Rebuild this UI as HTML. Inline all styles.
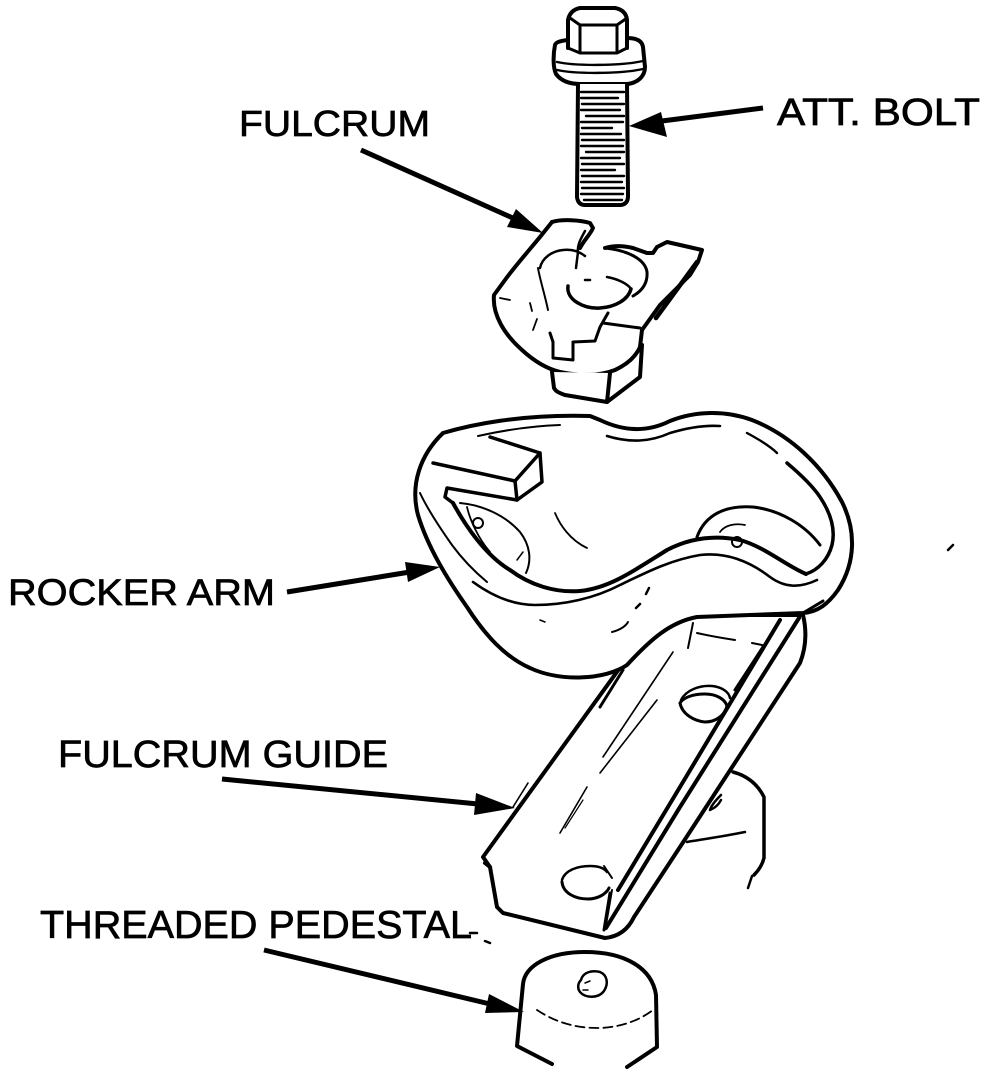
<!DOCTYPE html>
<html>
<head>
<meta charset="utf-8">
<style>
html,body{margin:0;padding:0;background:#fff;}
svg{display:block;}
text{font-family:"Liberation Sans",Arial,sans-serif;fill:#000;stroke:#000;stroke-width:0.7px;}
</style>
</head>
<body>
<svg width="992" height="1074" viewBox="0 0 992 1074" xmlns="http://www.w3.org/2000/svg">
<rect width="992" height="1074" fill="#fff"/>

<!-- ===== Pedestal behind guide ===== -->
<g fill="none" stroke="#000" stroke-width="3.5" stroke-linecap="round" stroke-linejoin="round">
  <path d="M733,772 C748,776 758,785 764,797 L764,820 L764,858 C762,866 758,871 754,875"/>
  <path d="M748,888 L752,876" stroke-width="2.5"/>
  <path d="M687,842 C705,839 725,836 745,832" stroke-width="2.5"/>
  <path d="M721,795 C716,800 711,806 710,810 C715,808 719,804 721,800" stroke-width="2.5"/>
</g>

<!-- ===== Fulcrum guide ===== -->
<g fill="none" stroke="#000" stroke-width="4" stroke-linecap="round" stroke-linejoin="round">
  <path d="M483,857 L640,640 Q655,618 693,615 L803,615 Q809,640 800,663 L680,847 L634,917 Q625,936 605,938 L503,913 L497,907 L490,867 Z" fill="#fff"/>
  <path d="M780,620 L680,787 L618,890"/>
  <path d="M799,618 L680,807 L606,928"/>
  <path d="M763,647 L735,690" stroke-width="3"/>
  <path d="M610,893 L604,930" stroke-width="3"/>
  <path d="M485,863 L490,867" />
  <path d="M693,623 L688,648" stroke-width="2"/>
  <path d="M697,633 C710,636 722,638 735,640" stroke-width="2"/>
  <path d="M752,643 L762,645" stroke-width="2"/>
  <path d="M600,707 L623,670" stroke-width="3"/>
  <path d="M603,757 L673,652" stroke-width="1.6"/>
  <path d="M600,773 L657,700" stroke-width="1.6"/>
  <path d="M560,833 L587,787" stroke-width="1.6"/>
  <path d="M565,828 L583,800" stroke-width="1.2"/>
  <path d="M513,807 L528,783" stroke-width="1.6"/>
  <path d="M681,700 C686,690 700,685 712,686 C722,687 729,692 730,698" stroke-width="2.5"/>
  <path d="M680,703 C682,714 694,721 705,722 C716,722 725,715 727,706 C725,699 716,694 705,694 C692,694 683,698 680,703" stroke-width="3"/>
  <path d="M562,880 C565,870 578,866 590,866 C598,866 604,868 607,872" stroke-width="2.5"/>
  <path d="M562,882 C563,893 575,899 588,899 C598,899 606,894 609,888" stroke-width="3"/>
  <path d="M604,866 L612,878" stroke-width="2"/>
  <path d="M612,890 L606,925" stroke-width="2"/>
</g>

<!-- ===== Rocker arm ===== -->
<g fill="none" stroke="#000" stroke-width="4" stroke-linecap="round" stroke-linejoin="round">
  <path d="M443,433 C470,425 520,414 590,416 L600,420 C625,432 648,432 670,421 C695,411 725,410 752,420 C790,435 822,465 842,502 C856,530 856,562 838,590 C828,604 818,612 803,613 L697,617 C670,622 650,640 627,665 C605,680 560,682 530,668 C505,657 485,635 467,607 C448,580 428,548 418,515 C410,485 420,455 443,433 Z" fill="#fff"/>
  <path d="M803,613 L823,601" stroke-width="3"/>
  <path d="M478,436 C505,430 530,426 560,425" stroke-width="2"/>
  <path d="M607,436 C630,443 650,442 670,433 C690,427 705,425 720,426" stroke-width="2.6"/>
  <path d="M747,433 C760,440 770,446 777,453" stroke-width="2.4"/>
  <path d="M787,463 C800,474 812,485 820,497 C830,512 836,528 832,545 C828,560 818,570 806,574" stroke-width="3.5"/>
  <path d="M453,503 C465,525 485,555 510,570 C530,585 555,593 580,591 C610,588 635,570 667,550 C690,538 715,535 740,540 C765,547 785,565 806,574"/>
  <path d="M473,582 C495,598 515,605 535,605 C565,605 595,598 620,585 C645,573 670,560 700,555 C725,552 748,560 770,577 C785,588 800,588 817,580" stroke-width="2.6"/>
  <path d="M420,493 C428,510 440,528 452,545 C463,560 475,572 487,582" stroke-width="2"/>
  <path d="M490,437 L540,453 L515,481 L433,463" stroke-width="3.5"/>
  <path d="M540,453 L542,482 L517,500 L515,481" stroke-width="3.5"/>
  <path d="M517,500 L447,488 L445,497 L453,503" stroke-width="3.5"/>
  <path d="M460,503 C482,505 505,515 520,532 C530,545 532,560 526,573" stroke-width="2"/>
  <path d="M467,507 C470,520 478,538 490,552" stroke-width="1.8"/>
  <circle cx="478" cy="523" r="5" stroke-width="2"/>
  <path d="M517,560 L523,552" stroke-width="1.5"/>
  <path d="M555,513 C560,525 570,540 587,548" stroke-width="1.8"/>
  <path d="M697,537 C705,515 725,505 753,507 C780,510 805,525 820,545" stroke-width="3"/>
  <path d="M720,532 C725,525 735,523 745,525" stroke-width="1.8"/>
  <circle cx="737" cy="542" r="5" stroke-width="2"/>
  <path d="M646,594 L649,588" stroke-width="2.5"/>
  <path d="M636,608 L640,604" stroke-width="2.5"/>
  <path d="M612,632 C620,630 626,626 628,622" stroke-width="2"/>
  <path d="M540,620 L545,622" stroke-width="1.5"/>
</g>

<!-- ===== Bolt ===== -->
<g fill="none" stroke="#000" stroke-width="4" stroke-linecap="round" stroke-linejoin="round">
  <path d="M555,45 C553,55 553,68 556,74 C562,82 572,84 580,84 L627,84 C638,83 645,76 645,67 L643,47 C642,40 635,38 627,38 L568,40 C560,41 556,42 555,45 Z" fill="#fff"/>
  <path d="M557,62 C575,66 620,66 643,61" stroke-width="2.4"/>
  <path d="M557,70 C575,74 620,74 643,69" stroke-width="2.4"/>
  <path d="M568,48 L568,20 Q570,10 580,8 L615,8 Q626,10 627,20 L627,48" fill="#fff"/>
  <path d="M570,18 L580,25 L617,25 L627,18" stroke-width="3"/>
  <path d="M580,25 L580,52 M617,25 L617,52" stroke-width="3"/>
  <path d="M568,48 L580,53 L617,53 L627,48" stroke-width="3"/>
  <path d="M578,84 L577,197 Q578,205 585,205 L621,205 Q628,204 628,196 L627,84" fill="#fff"/>
</g>
<g stroke="#000" stroke-width="2.4" stroke-linecap="round">
  <path d="M581,92 H624 M581,98 H618 M582,104 H624 M581,110 H620 M586,116 H624 M581,122 H623 M582,128 H612 M581,134 H621 M582,140 H624 M581,146 H623 M586,152 H624 M581,158 H620 M582,164 H624 M581,170 H615 M582,176 H624 M581,182 H622 M582,188 H624 M581,194 H623 M584,200 H622"/>
</g>

<!-- ===== Fulcrum ===== -->
<g fill="none" stroke="#000" stroke-width="4" stroke-linecap="round" stroke-linejoin="round">
  <path d="M552,222 L540,237 C525,255 512,270 505,280 L494,295 C492,315 505,335 522,350 C535,362 548,369 560,372 C580,376 600,376 615,370 C628,364 636,356 640,347 L642,330 L660,305 L690,275 L698,262 L702,250 L667,242 L657,247 L653,253 L647,253 L633,248 C625,246 615,245 605,248" fill="#fff"/>
  <path d="M552,222 C562,219 580,220 590,223 L593,228 C590,235 584,240 580,248"/>
  <path d="M552,372 L554,388 C556,392 560,393 565,395 L607,402 L610,373" fill="#fff"/>
  <path d="M607,402 L640,377 L642,345"/>
  <path d="M697,262 L656,318" stroke-width="4.5"/>
  <path d="M603,323 L640,328" stroke-width="3"/>
  <path d="M540,268 C542,258 552,251 563,250 C573,249 580,252 585,256" stroke-width="2.5"/>
  <path d="M585,231 C580,240 577,246 578,252 L576,268" stroke-width="2.5"/>
  <path d="M605,248 C625,250 645,258 647,272 C648,285 640,292 633,296" stroke-width="3"/>
  <path d="M568,286 C566,300 584,309 600,308 C615,307 628,300 631,289" stroke-width="3.5"/>
  <path d="M607,277 C618,279 628,284 631,289" stroke-width="2.5"/>
  <path d="M585,280 L590,280" stroke-width="2.5"/>
  <path d="M538,268 C540,280 545,295 548,310" stroke-width="2"/>
  <path d="M550,333 L553,342 M573,342 L595,341 L600,327 L608,313" stroke-width="3"/>
  <path d="M553,342 L553,358 L573,360 L573,343" stroke-width="3"/>
  <path d="M530,303 L532,311 M537,319 L533,330" stroke-width="1.8"/>
  <path d="M500,298 L510,300" stroke-width="1.8"/>
</g>

<!-- ===== Threaded pedestal ===== -->
<g fill="none" stroke="#000" stroke-width="4" stroke-linecap="round" stroke-linejoin="round">
  <path d="M523,984 C525,965 550,952 585,952 C625,952 652,968 656,995 L657,1047 L627,1067 M523,984 L517,1046 L552,1064"/>
  <path d="M581,980 C583,972 592,970 600,972 C607,975 609,983 604,991 C598,999 585,998 580,992 C577,988 578,983 581,980" stroke-width="2.5"/>
  <path d="M585,983 L590,981 M583,990 L588,990" stroke-width="1.5"/>
  <path d="M537,1010 C555,1022 575,1028 597,1028 C620,1028 640,1020 653,1010" stroke-width="1.8" stroke-dasharray="9 5"/>
</g>

<g stroke="#000" stroke-width="2.5" stroke-linecap="round">
  <path d="M470,933 L477,933"/>
  <path d="M485,941 L490,943"/>
  <path d="M948,550 L953,545"/>
</g>

<!-- ===== Arrows ===== -->
<g stroke="#000" stroke-width="5" stroke-linecap="butt">
  <line x1="763" y1="108" x2="662" y2="121"/>
  <line x1="361" y1="150" x2="515" y2="219"/>
  <line x1="287" y1="592" x2="410" y2="572"/>
  <line x1="222" y1="779" x2="478" y2="804"/>
  <line x1="264" y1="950" x2="490" y2="1004"/>
</g>
<g fill="#000">
  <polygon points="629,126 661,112 667,137"/>
  <polygon points="543,233 507,227 516,209"/>
  <polygon points="440,567 405,562 408,582"/>
  <polygon points="515,808 476,793 474,815"/>
  <polygon points="524,1012 489,994 485,1013"/>
</g>

<!-- ===== Labels ===== -->
<text x="239" y="136" font-size="36" textLength="191" lengthAdjust="spacingAndGlyphs">FULCRUM</text>
<text x="777" y="125" font-size="38" textLength="203" lengthAdjust="spacingAndGlyphs">ATT. BOLT</text>
<text x="8" y="605" font-size="37" textLength="267" lengthAdjust="spacingAndGlyphs">ROCKER ARM</text>
<text x="58" y="767" font-size="38" textLength="330" lengthAdjust="spacingAndGlyphs">FULCRUM GUIDE</text>
<text x="40" y="938" font-size="39" textLength="432" lengthAdjust="spacingAndGlyphs">THREADED PEDESTAL</text>
</svg>
</body>
</html>
